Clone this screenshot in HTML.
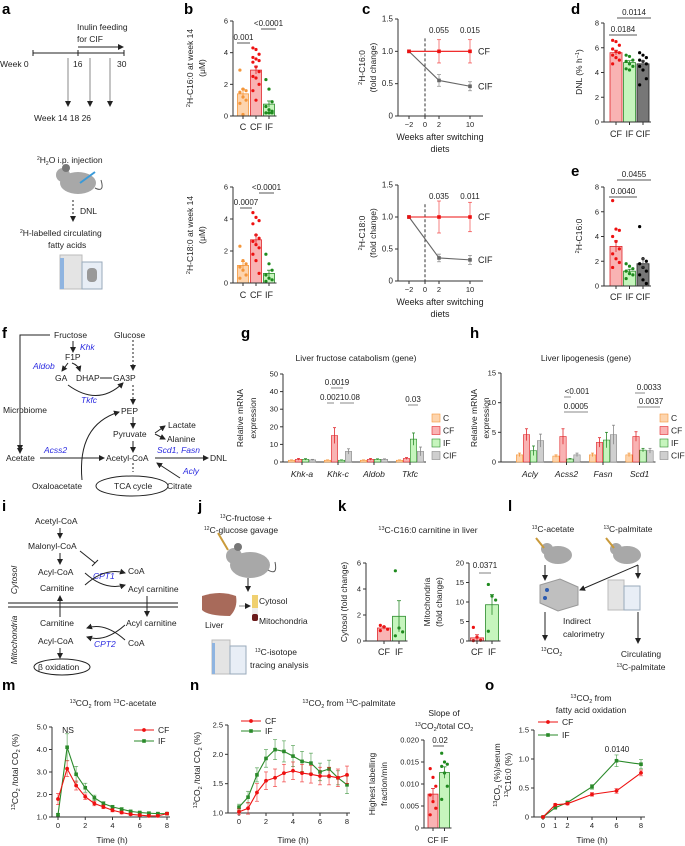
<!DOCTYPE html>
<html><head><meta charset="utf-8">
<style>
html,body{margin:0;padding:0;background:#fff;}
svg{display:block;font-family:"Liberation Sans",Arial,sans-serif;}
text{fill:#222;}
.pl{font-weight:bold;font-size:15px;fill:#000;}
.t{font-size:8.5px;}
.s{font-size:7.5px;}
.blue{fill:#2a2ae0;font-style:italic;}
</style></head>
<body>
<svg id="fig" width="685" height="846" viewBox="0 0 685 846" xmlns="http://www.w3.org/2000/svg">
<defs>
<marker id="ah" markerWidth="6" markerHeight="6" refX="5" refY="3" orient="auto"><path d="M0,0 L6,3 L0,6 z" fill="#222"/></marker>
</defs>
<text class="pl" x="2" y="14">a</text>
<text class="pl" x="184" y="14">b</text>
<text class="pl" x="362" y="14">c</text>
<text class="pl" x="571" y="14">d</text>
<text class="pl" x="571" y="176">e</text>
<text class="pl" x="2" y="338">f</text>
<text class="pl" x="241" y="338">g</text>
<text class="pl" x="470" y="338">h</text>
<text class="pl" x="2" y="511">i</text>
<text class="pl" x="198" y="511">j</text>
<text class="pl" x="338" y="511">k</text>
<text class="pl" x="508" y="511">l</text>
<text class="pl" x="2" y="690">m</text>
<text class="pl" x="190" y="690">n</text>
<text class="pl" x="485" y="690">o</text>

<g stroke="#222" fill="none">
<line x1="33" y1="53" x2="124" y2="53"/>
<line x1="33" y1="50" x2="33" y2="56"/><line x1="78" y1="50" x2="78" y2="56"/><line x1="124" y1="50" x2="124" y2="56"/>
<line x1="78" y1="47" x2="123" y2="47" marker-end="url(#ah)"/>
<line x1="68" y1="58" x2="68" y2="106" stroke="#888" marker-end="url(#ah)"/>
<line x1="90" y1="58" x2="90" y2="106" stroke="#888" marker-end="url(#ah)"/>
<line x1="110" y1="58" x2="110" y2="106" stroke="#888" marker-end="url(#ah)"/>
<line x1="73" y1="200" x2="73" y2="221" stroke-dasharray="2,2" marker-end="url(#ah)"/>
</g>
<text class="t" x="77" y="30">Inulin feeding</text>
<text class="t" x="77" y="42">for CIF</text>
<text class="t" x="0" y="67">Week 0</text>
<text class="t" x="73" y="67">16</text>
<text class="t" x="117" y="67">30</text>
<text class="t" x="34" y="121">Week 14  18  26</text>
<text class="t" x="37" y="163"><tspan font-size="5" dy="-3">2</tspan><tspan dy="3">H</tspan><tspan font-size="5" dy="2">2</tspan><tspan dy="-2">O i.p. injection</tspan></text>
<g>
<ellipse cx="78" cy="183" rx="18" ry="11" fill="#a8a8a8"/><circle cx="63" cy="175" r="7" fill="#a8a8a8"/><circle cx="66" cy="168" r="4" fill="#777"/>
<path d="M95,188 q10,5 6,-8" stroke="#555" fill="none"/><line x1="80" y1="183" x2="95" y2="172" stroke="#3a9ad9" stroke-width="2"/>
</g>
<text class="t" x="80" y="214">DNL</text>
<text class="t" x="20" y="236"><tspan font-size="5" dy="-3">2</tspan><tspan dy="3">H-labelled circulating</tspan></text>
<text class="t" x="48" y="248">fatty acids</text>
<g>
<rect x="60" y="255" width="22" height="34" fill="#e4e4e4" stroke="#bbb"/><rect x="82" y="262" width="20" height="27" fill="#e8eef6" stroke="#9ab"/>
<rect x="60" y="258" width="4" height="31" fill="#8fb4e0"/><rect x="87" y="268" width="10" height="14" rx="4" fill="#999"/>
</g>

<g font-size="8.5">
<text x="54" y="338">Fructose</text><text x="114" y="338">Glucose</text>
<text class="blue" x="80" y="350">Khk</text><text x="65" y="360">F1P</text>
<text class="blue" x="33" y="369">Aldob</text>
<text x="55" y="381">GA</text><text x="76" y="381">DHAP</text><text x="113" y="381">GA3P</text>
<text class="blue" x="81" y="403">Tkfc</text>
<text x="3" y="413">Microbiome</text><text x="121" y="414">PEP</text>
<text x="168" y="428">Lactate</text><text x="113" y="437">Pyruvate</text><text x="167" y="442">Alanine</text>
<text x="6" y="461">Acetate</text><text class="blue" x="44" y="453">Acss2</text>
<text x="106" y="461">Acetyl-CoA</text><text class="blue" x="157" y="453">Scd1, Fasn</text><text x="210" y="461">DNL</text>
<text class="blue" x="183" y="474">Acly</text>
<text x="32" y="489">Oxaloacetate</text><text x="114" y="489">TCA cycle</text><text x="167" y="489">Citrate</text>
</g>
<g stroke="#222" fill="none">
<polyline points="50,335 20,335 20,453" marker-end="url(#ah)"/>
<line x1="20" y1="418" x2="20" y2="450" marker-end="url(#ah)"/>
<line x1="73" y1="341" x2="73" y2="352" marker-end="url(#ah)"/>
<path d="M68,363 l-6,8" marker-end="url(#ah)"/><path d="M72,363 q6,2 8,8" marker-end="url(#ah)"/>
<line x1="100" y1="378" x2="112" y2="378"/>
<line x1="133" y1="340" x2="133" y2="370" stroke-dasharray="2,2" marker-end="url(#ah)"/>
<line x1="133" y1="385" x2="133" y2="404" stroke-dasharray="2,2" marker-end="url(#ah)"/>
<path d="M68,385 q30,22 55,-2" marker-end="url(#ah)"/>
<line x1="133" y1="417" x2="133" y2="428" marker-end="url(#ah)"/>
<path d="M155,433 l10,-7" marker-end="url(#ah)"/><path d="M155,434 l10,5" marker-end="url(#ah)"/>
<line x1="133" y1="441" x2="133" y2="452" marker-end="url(#ah)"/>
<line x1="40" y1="458" x2="104" y2="458" marker-end="url(#ah)"/>
<line x1="155" y1="458" x2="208" y2="458" marker-end="url(#ah)"/>
<line x1="133" y1="463" x2="133" y2="472" stroke-dasharray="2,2"/>
<line x1="180" y1="478" x2="157" y2="463" marker-end="url(#ah)"/>
<path d="M82,480 q-5,-55 37,-68" marker-end="url(#ah)"/>
<ellipse cx="132" cy="486" rx="36" ry="10"/>
</g>

<g font-size="8.5">
<text x="35" y="524">Acetyl-CoA</text><text x="28" y="549">Malonyl-CoA</text>
<text x="38" y="575">Acyl-CoA</text><text class="blue" x="93" y="579">CPT1</text><text x="128" y="574">CoA</text>
<text x="40" y="591">Carnitine</text><text x="128" y="592">Acyl carnitine</text>
<text x="40" y="626">Carnitine</text><text x="126" y="626">Acyl carnitine</text>
<text x="38" y="644">Acyl-CoA</text><text class="blue" x="94" y="647">CPT2</text><text x="128" y="646">CoA</text>
<text x="38" y="670">β oxidation</text>
<text font-style="italic" transform="rotate(-90,17,580)" x="17" y="580" text-anchor="middle">Cytosol</text>
<text font-style="italic" transform="rotate(-90,17,640)" x="17" y="640" text-anchor="middle">Mitochondria</text>
</g>
<g stroke="#222" fill="none">
<line x1="60" y1="528" x2="60" y2="538" marker-end="url(#ah)"/>
<line x1="60" y1="553" x2="60" y2="564" marker-end="url(#ah)"/>
<path d="M80,551 l15,12"/><line x1="92" y1="566" x2="98" y2="560"/>
<path d="M85,585 q20,-18 40,-12" marker-end="url(#ah)"/><path d="M85,573 q20,18 40,12" marker-end="url(#ah)"/>
<line x1="8" y1="603" x2="178" y2="603" stroke="#666" stroke-width="1.5"/><line x1="8" y1="607" x2="178" y2="607" stroke="#666" stroke-width="1.5"/>
<line x1="60" y1="617" x2="60" y2="596" marker-end="url(#ah)"/>
<line x1="147" y1="596" x2="147" y2="616" marker-end="url(#ah)"/>
<path d="M125,640 q-20,-18 -38,-12" marker-end="url(#ah)"/><path d="M125,625 q-20,18 -38,12" marker-end="url(#ah)"/>
<line x1="60" y1="648" x2="60" y2="658" marker-end="url(#ah)"/>
<ellipse cx="62" cy="667" rx="28" ry="8"/>
</g>

<text class="t" x="220" y="521"><tspan font-size="5" dy="-3">13</tspan><tspan dy="3">C-fructose +</tspan></text>
<text class="t" x="204" y="533"><tspan font-size="5" dy="-3">12</tspan><tspan dy="3">C-glucose gavage</tspan></text>
<g>
<ellipse cx="250" cy="565" rx="20" ry="13" fill="#a8a8a8"/><circle cx="234" cy="556" r="8" fill="#a8a8a8"/><circle cx="238" cy="547" r="4" fill="#777"/>
<path d="M268,570 q10,6 7,-8" stroke="#555" fill="none"/><line x1="218" y1="533" x2="228" y2="550" stroke="#c99a3a" stroke-width="2"/>
<line x1="248" y1="578" x2="248" y2="591" stroke="#222" marker-end="url(#ah)"/>
<path d="M202,596 q18,-6 34,0 q2,12 -6,20 q-22,0 -28,-6 z" fill="#a86a5a"/>
<line x1="239" y1="606" x2="250" y2="606" stroke="#888" marker-end="url(#ah)"/>
<rect x="252" y="595" width="6" height="13" fill="#f0d070"/><rect x="252" y="608" width="6" height="6" fill="#eee"/><rect x="252" y="614" width="6" height="7" rx="2" fill="#6a1a1a"/>
<rect x="212" y="640" width="18" height="34" fill="#e4e4e4" stroke="#bbb"/><rect x="230" y="646" width="16" height="28" fill="#e8eef6" stroke="#9ab"/><rect x="212" y="643" width="3" height="31" fill="#8fb4e0"/>
</g>
<text class="t" x="259" y="604">Cytosol</text>
<text class="t" x="259" y="624">Mitochondria</text>
<text class="t" x="205" y="628">Liver</text>
<text class="t" x="255" y="655"><tspan font-size="5" dy="-3">13</tspan><tspan dy="3">C-isotope</tspan></text>
<text class="t" x="250" y="668">tracing analysis</text>

<text class="t" x="553" y="532" text-anchor="middle"><tspan font-size="5" dy="-3">13</tspan><tspan dy="3">C-acetate</tspan></text>
<text class="t" x="628" y="532" text-anchor="middle"><tspan font-size="5" dy="-3">13</tspan><tspan dy="3">C-palmitate</tspan></text>
<g>
<ellipse cx="558" cy="555" rx="14" ry="9" fill="#a8a8a8"/><circle cx="547" cy="549" r="6" fill="#a8a8a8"/>
<ellipse cx="627" cy="555" rx="14" ry="9" fill="#a8a8a8"/><circle cx="616" cy="549" r="6" fill="#a8a8a8"/>
<line x1="536" y1="538" x2="544" y2="548" stroke="#c99a3a" stroke-width="2"/><line x1="606" y1="538" x2="614" y2="548" stroke="#c99a3a" stroke-width="2"/>
<path d="M540,585 l20,-6 l18,8 l0,18 l-20,6 l-18,-8 z" fill="#bfbfbf" stroke="#999"/><circle cx="547" cy="590" r="2" fill="#2a5ab0"/><circle cx="545" cy="598" r="2" fill="#2a5ab0"/>
<rect x="608" y="580" width="16" height="30" fill="#e4e4e4" stroke="#bbb"/><rect x="624" y="586" width="16" height="24" fill="#e8eef6" stroke="#9ab"/>
<g stroke="#222" fill="none">
<line x1="545" y1="565" x2="545" y2="580" marker-end="url(#ah)"/>
<line x1="545" y1="612" x2="545" y2="640" marker-end="url(#ah)"/>
<line x1="638" y1="565" x2="580" y2="590" marker-end="url(#ah)"/>
<line x1="638" y1="565" x2="638" y2="578" marker-end="url(#ah)"/>
<line x1="638" y1="612" x2="638" y2="643" marker-end="url(#ah)"/>
</g></g>
<text class="t" x="563" y="624">Indirect</text>
<text class="t" x="563" y="637">calorimetry</text>
<text class="t" x="541" y="654"><tspan font-size="5" dy="-3">13</tspan><tspan dy="3">CO</tspan><tspan font-size="5" dy="2">2</tspan></text>
<text class="t" x="641" y="657" text-anchor="middle">Circulating</text>
<text class="t" x="641" y="670" text-anchor="middle"><tspan font-size="5" dy="-3">13</tspan><tspan dy="3">C-palmitate</tspan></text>
<g id="charts"></g>
</svg>
<script>
// ---------- data ----------
const bCats = ["C","CF","IF"];
const bTopMeans = [1.4, 2.9, 0.75];
const bTopErr = [0.3, 0.25, 0.2];
const bTopDots = [[2.9,1.7,1.6,1.5,1.2,1.0,0.8,0.1],[4.3,4.2,3.9,3.7,3.6,3.5,3.4,3.1,2.8,2.5,2.4,2.0,1.6,1.0],[2.3,1.7,0.9,0.6,0.4,0.3,0.2,0.2,0.2]];
const bBotMeans = [1.1, 2.7, 0.6];
const bBotErr = [0.25, 0.3, 0.2];
const bBotDots = [[2.3,1.4,1.2,1.0,0.8,0.5,0.3],[4.4,4.1,3.9,3.7,3.0,2.8,2.6,2.4,2.2,1.8,1.4,0.6],[1.8,1.2,0.8,0.5,0.3,0.2,0.1]];
const bTicks = [0,2,4,6];
const cWeeks = [-2, 2, 10];
const cTopCF = [1.0, 1.0, 1.0];
const cTopCFerr = [0, 0.18, 0.18];
const cTopCIF = [1.0, 0.55, 0.46];
const cTopCIFerr = [0, 0.09, 0.07];
const cBotCF = [1.0, 1.0, 1.0];
const cBotCFerr = [0, 0.25, 0.23];
const cBotCIF = [1.0, 0.36, 0.33];
const cBotCIFerr = [0, 0.06, 0.07];
const cTicks = [0, 0.5, 1.0, 1.5];
const cTickLabels = ["0","0.5","1.0","1.5"];
const dCats = ["CF","IF","CIF"];
const dMeans = [5.6, 4.8, 4.7];
const dErr = [0.2, 0.15, 0.25];
const dDots = [[6.6,6.5,6.2,5.9,5.7,5.6,5.4,5.2,5.0,4.7],[5.4,5.3,5.0,4.9,4.7,4.5,4.3,4.2],[5.6,5.4,5.2,5.0,4.9,4.7,4.5,4.2,3.5,3.0]];
const eMeans = [3.2, 1.2, 1.8];
const eErr = [0.45, 0.15, 0.4];
const eDots = [[6.9,4.6,4.5,4.0,3.6,3.0,2.6,2.2,1.9,1.5],[1.8,1.6,1.4,1.2,1.0,0.9,0.6],[4.8,2.2,2.0,1.8,1.5,1.2,0.9,0.5,0.2]];
const deTicks = [0,2,4,6,8];
const geneGroups = ["C","CF","IF","CIF"];
const gGenes = ["Khk-a","Khk-c","Aldob","Tkfc"];
const gMeans = [[1,1.5,1.5,1.2],[1,15,1,6],[1,1.5,1.5,1.5],[1,2,13,6]];
const gErr = [[0.2,0.5,0.4,0.3],[0.2,4.5,0.2,1.5],[0.2,0.5,0.3,0.3],[0.2,0.5,3.5,2.5]];
const gTicks = [0,10,20,30,40,50];
const hGenes = ["Acly","Acss2","Fasn","Scd1"];
const hMeans = [[1.2,4.6,1.9,3.6],[1,4.3,0.5,1.2],[1.2,3.3,3.7,4.6],[1.2,4.3,2.0,1.9]];
const hErr = [[0.3,1.0,0.8,1.1],[0.2,1.3,0.1,0.3],[0.3,0.8,1.3,1.6],[0.3,0.8,0.3,0.4]];
const hTicks = [0,5,10,15];
const kCats = ["CF","IF"];
const kCytMeans = [1.0, 1.9];
const kCytErr = [0.1, 1.2];
const kCytDots = [[1.2,1.1,0.9,0.8],[5.4,1.0,0.7,0.4]];
const kMitoMeans = [0.8, 9.3];
const kMitoErr = [0.8, 2.6];
const kMitoDots = [[3.5,1.0,0.2,0.1],[14.5,11.5,10.5,2.5]];
const kCytTicks = [0,2,4,6];
const kMitoTicks = [0,5,10,15,20];
const mTime = [0,0.67,1.33,2,2.67,3.33,4,4.67,5.33,6,6.67,7.33,8];
const mCF = [1.8,3.15,2.4,1.9,1.6,1.45,1.3,1.2,1.12,1.08,1.05,1.05,1.15];
const mCFerr = [0.25,0.35,0.2,0.12,0.1,0.08,0.07,0.06,0.05,0.05,0.05,0.05,0.05];
const mIF = [1.1,4.1,2.9,2.3,1.85,1.6,1.45,1.35,1.25,1.2,1.17,1.15,1.15];
const mIFerr = [0.05,0.6,0.35,0.2,0.12,0.08,0.07,0.06,0.05,0.05,0.05,0.05,0.05];
const mTicks = [1,2,3,4,5];
const mTickLabels = ["1.0","2.0","3.0","4.0","5.0"];
const timeTicks = [0,2,4,6,8];
const nTime = [0,0.67,1.33,2,2.67,3.33,4,4.67,5.33,6,6.67,7.33,8];
const nCF = [1.02,1.08,1.35,1.55,1.6,1.68,1.72,1.68,1.66,1.63,1.63,1.6,1.65];
const nCFerr = [0.05,0.1,0.15,0.15,0.15,0.15,0.15,0.15,0.15,0.15,0.15,0.15,0.15];
const nIF = [1.1,1.27,1.65,1.93,2.08,2.05,1.97,1.88,1.85,1.7,1.75,1.6,1.48];
const nIFerr = [0.05,0.1,0.12,0.15,0.17,0.18,0.18,0.17,0.17,0.15,0.15,0.12,0.15];
const nTicks = [1.0,1.5,2.0,2.5];
const nTickLabels = ["1.0","1.5","2.0","2.5"];
const slopeMeans = [0.0077, 0.0126];
const slopeErr = [0.0013, 0.0013];
const slopeDots = [[0.0135,0.0115,0.0095,0.0075,0.006,0.0045,0.003],[0.017,0.015,0.0145,0.014,0.0125,0.0095,0.0065]];
const slopeTicks = [0,0.005,0.01,0.015,0.02];
const slopeTickLabels = ["0","0.005","0.010","0.015","0.020"];
const oTime = [0,1,2,4,6,8];
const oCF = [0,0.21,0.23,0.39,0.45,0.76];
const oCFerr = [0.01,0.02,0.02,0.03,0.04,0.05];
const oIF = [0,0.16,0.25,0.52,0.97,0.91];
const oIFerr = [0.01,0.02,0.02,0.04,0.1,0.08];
const oTicks = [0,0.5,1.0,1.5];
const oTickLabels = ["0","0.5","1.0","1.5"];
const oXTicks = [0,1,2,4,6,8];

// ---------- helpers ----------
const NS = "http://www.w3.org/2000/svg";
const root = document.getElementById("charts");
function mk(tag, attrs, name, parent){
  const e = document.createElementNS(NS, tag);
  for (const k in attrs) e.setAttribute(k, attrs[k]);
  
  
  (parent || root).appendChild(e);
  return e;
}
function txt(x, y, s, name, opt){
  opt = opt || {};
  const a = {x:x, y:y, "font-size": opt.size || 8.5, "text-anchor": opt.anchor || "start"};
  if (opt.fill) a.fill = opt.fill;
  if (opt.rot) a.transform = "rotate(-90," + x + "," + y + ")";
  if (opt.italic) a["font-style"] = "italic";
  const t = mk("text", a, name);
  t.innerHTML = s;
  return t;
}
function lin(d0, d1, r0, r1){ return v => r0 + (v - d0) * (r1 - r0) / (d1 - d0); }
const COL = {
  C:{fill:"#fdd4ad", stroke:"#f4963a", dot:"#f4963a"},
  CF:{fill:"#f9b3b3", stroke:"#e0262b", dot:"#ee1111"},
  IF:{fill:"#c6f5bd", stroke:"#2a8a2a", dot:"#1e8a1e"},
  CIF:{fill:"#777", stroke:"#222", dot:"#000"},
  CIFg:{fill:"#cfcfcf", stroke:"#888", dot:"#666"}
};
function yAxis(x, ys, ticks, labels, name, fs){
  mk("line", {x1:x, y1:ys(ticks[0]), x2:x, y2:ys(ticks[ticks.length-1]), stroke:"#333"}, name + "-line");
  ticks.forEach((t, i) => {
    mk("line", {x1:x-3, y1:ys(t), x2:x, y2:ys(t), stroke:"#333"}, name + "-tick");
    txt(x-5, ys(t)+2.5, labels ? labels[i] : String(t), name + "-tick-label", {anchor:"end", size: fs || 7.5});
  });
}
function errBar(x, ys, m, e, color, name, w){
  w = w || 2;
  mk("line", {x1:x, y1:ys(m-e), x2:x, y2:ys(m+e), stroke:color, "stroke-width":0.8}, name);
  mk("line", {x1:x-w, y1:ys(m+e), x2:x+w, y2:ys(m+e), stroke:color, "stroke-width":0.8}, name + "-cap");
}
function barGroup(cfg){
  const ys = lin(0, cfg.max, cfg.y0, cfg.yTop);
  yAxis(cfg.ax, ys, cfg.ticks, cfg.tickLabels, cfg.name + "-y-axis", cfg.tfs);
  cfg.cats.forEach((c, i) => {
    const cx = cfg.x0 + i * cfg.step;
    const col = COL[c];
    mk("rect", {x: cx - cfg.w/2, y: ys(cfg.means[i]), width: cfg.w, height: ys(0) - ys(cfg.means[i]), fill: col.fill, stroke: col.stroke, "stroke-width":0.8}, cfg.name + "-bar-" + c.toLowerCase());
    if (cfg.dots) cfg.dots[i].forEach((v, j) => {
      const off = ((j % 3) - 1) * cfg.w * 0.28;
      mk("circle", {cx: cx + off, cy: ys(v), r: 1.6, fill: col.dot}, cfg.name + "-dot");
    });
    errBar(cx, ys, cfg.means[i], cfg.err[i], col.stroke === "#222" ? "#666" : col.stroke, cfg.name + "-error-bar");
    if (cfg.labelY) txt(cx, cfg.labelY, c, cfg.name + "-x-label", {anchor:"middle", size: cfg.lfs || 9});
  });
  mk("line", {x1:cfg.ax, y1:ys(0), x2:cfg.x0 + (cfg.cats.length-1)*cfg.step + cfg.w/2 + 2, y2:ys(0), stroke:"#333"}, cfg.name + "-x-axis");
  cfg.cats.forEach((c, i) => mk("line", {x1:cfg.x0+i*cfg.step, y1:ys(0), x2:cfg.x0+i*cfg.step, y2:ys(0)+3, stroke:"#333"}, cfg.name + "-x-tick"));
  return ys;
}
function pval(x1, x2, y, label, name){
  mk("line", {x1:x1, y1:y, x2:x2, y2:y, stroke:"#555"}, name + "-bracket");
  txt((x1+x2)/2, y-3, label, name, {anchor:"middle", size:8});
}
function series(xs, ys, xv, yv, ev, color, marker, name){
  const pts = xv.map((t, i) => xs(t) + "," + ys(yv[i])).join(" ");
  mk("polyline", {points: pts, fill:"none", stroke: color, "stroke-width":1.1}, name + "-line");
  xv.forEach((t, i) => {
    if (ev && ev[i] > 0) {
      mk("line", {x1:xs(t), y1:ys(yv[i]-ev[i]), x2:xs(t), y2:ys(yv[i]+ev[i]), stroke: color, "stroke-width":0.7, opacity:0.75}, name + "-error-bar");
      mk("line", {x1:xs(t)-2, y1:ys(yv[i]+ev[i]), x2:xs(t)+2, y2:ys(yv[i]+ev[i]), stroke: color, "stroke-width":0.7, opacity:0.75}, name + "-error-cap");
      mk("line", {x1:xs(t)-2, y1:ys(yv[i]-ev[i]), x2:xs(t)+2, y2:ys(yv[i]-ev[i]), stroke: color, "stroke-width":0.7, opacity:0.75}, name + "-error-cap");
    }
    if (marker === "circle") mk("circle", {cx:xs(t), cy:ys(yv[i]), r:1.9, fill:color}, name + "-point");
    else mk("rect", {x:xs(t)-1.8, y:ys(yv[i])-1.8, width:3.6, height:3.6, fill:color}, name + "-point");
  });
}
function xAxis(xs, y, ticks, labels, name, x0, x1){
  mk("line", {x1:x0, y1:y, x2:x1, y2:y, stroke:"#333"}, name + "-line");
  ticks.forEach((t, i) => {
    mk("line", {x1:xs(t), y1:y, x2:xs(t), y2:y+3, stroke:"#333"}, name + "-tick");
    txt(xs(t), y+11, labels ? labels[i] : String(t), name + "-tick-label", {anchor:"middle", size:7.5});
  });
}
function legendLine(x, y, color, marker, label, name){
  mk("line", {x1:x, y1:y, x2:x+20, y2:y, stroke:color, "stroke-width":1.1}, name + "-line");
  if (marker === "circle") mk("circle", {cx:x+10, cy:y, r:1.9, fill:color}, name + "-marker");
  else mk("rect", {x:x+8.2, y:y-1.8, width:3.6, height:3.6, fill:color}, name + "-marker");
  txt(x+24, y+3, label, name + "-label", {size:8.5});
}

// ---------- panel b ----------
barGroup({name:"b-top", cats:bCats, means:bTopMeans, err:bTopErr, dots:bTopDots, ax:233, y0:116, yTop:21, max:6, ticks:bTicks, x0:243, step:13, w:11, labelY:130});
pval(237,250,43,"0.001","b-top-p-c-cf");
pval(261,276,29,"&lt;0.0001","b-top-p-cf-if");
txt(193,68,'<tspan font-size="5.5" dy="-3">2</tspan><tspan dy="3">H-C16:0 at week 14</tspan>',"b-top-y-title",{rot:true,anchor:"middle",size:8.5});
txt(205,68,"(μM)","b-top-y-title-2",{rot:true,anchor:"middle",size:8.5});
barGroup({name:"b-bot", cats:bCats, means:bBotMeans, err:bBotErr, dots:bBotDots, ax:233, y0:283, yTop:187, max:6, ticks:bTicks, x0:243, step:13, w:11, labelY:298});
pval(240,252,208,"0.0007","b-bot-p-c-cf");
pval(259,274,193,"&lt;0.0001","b-bot-p-cf-if");
txt(193,235,'<tspan font-size="5.5" dy="-3">2</tspan><tspan dy="3">H-C18:0 at week 14</tspan>',"b-bot-y-title",{rot:true,anchor:"middle",size:8.5});
txt(205,235,"(μM)","b-bot-y-title-2",{rot:true,anchor:"middle",size:8.5});

// ---------- panel c ----------
function weekScale(w){
  const d = [-2,0,2,10], r = [409,425,439,470];
  for (let i = 0; i < d.length-1; i++) if (w <= d[i+1]) return r[i] + (w-d[i])*(r[i+1]-r[i])/(d[i+1]-d[i]);
  return r[3];
}
function panelC(tag, yTop, y0, cf, cfe, cif, cife, title, p1, p2){
  const ys = lin(0, 1.5, y0, yTop);
  yAxis(398, ys, cTicks, cTickLabels, "c-" + tag + "-y-axis", 8);
  xAxis(weekScale, y0, [-2,0,2,10], ["−2","0","2","10"], "c-" + tag + "-x-axis", 398, 483);
  mk("line", {x1:weekScale(0), y1:ys(1.2), x2:weekScale(0), y2:y0, stroke:"#333", "stroke-dasharray":"3,2"}, "c-" + tag + "-switch-line");
  series(weekScale, ys, cWeeks, cif, cife, "#666", "rect", "c-" + tag + "-cif");
  series(weekScale, ys, cWeeks, cf, cfe, "#ee1111", "rect", "c-" + tag + "-cf");
  txt(weekScale(10)+8, ys(cf[2])+3, "CF", "c-" + tag + "-cf-label", {fill:"#ee1111", size:9});
  txt(weekScale(10)+8, ys(cif[2])+3, "CIF", "c-" + tag + "-cif-label", {size:9});
  txt(weekScale(2), yTop+14, p1, "c-" + tag + "-p-week2", {anchor:"middle", size:8});
  txt(weekScale(10), yTop+14, p2, "c-" + tag + "-p-week10", {anchor:"middle", size:8});
  txt(440, y0+24, "Weeks after switching", "c-" + tag + "-x-title", {anchor:"middle", size:9});
  txt(440, y0+36, "diets", "c-" + tag + "-x-title-2", {anchor:"middle", size:9});
  txt(365, (y0+yTop)/2, '<tspan font-size="5.5" dy="-3">2</tspan><tspan dy="3">' + title + '</tspan>', "c-" + tag + "-y-title", {rot:true, anchor:"middle", size:8.5});
  txt(376, (y0+yTop)/2, "(fold change)", "c-" + tag + "-y-title-2", {rot:true, anchor:"middle", size:8.5});
}
panelC("top", 19, 116, cTopCF, cTopCFerr, cTopCIF, cTopCIFerr, "H-C16:0", "0.055", "0.015");
panelC("bot", 185, 281, cBotCF, cBotCFerr, cBotCIF, cBotCIFerr, "H-C18:0", "0.035", "0.011");

// ---------- panels d, e ----------
barGroup({name:"d", cats:dCats, means:dMeans, err:dErr, dots:dDots, ax:604, y0:122, yTop:23, max:8, ticks:deTicks, x0:616, step:13.5, w:12, labelY:137});
pval(609,637,35,"0.0184","d-p-cf-if");
pval(617,651,18,"0.0114","d-p-cf-cif");
txt(582,72,'DNL (% h<tspan font-size="5.5" dy="-3">−1</tspan><tspan dy="3">)</tspan>',"d-y-title",{rot:true,anchor:"middle",size:8.5});
barGroup({name:"e", cats:dCats, means:eMeans, err:eErr, dots:eDots, ax:604, y0:286, yTop:187, max:8, ticks:deTicks, x0:616, step:13.5, w:12, labelY:300});
pval(609,637,197,"0.0040","e-p-cf-if");
pval(617,651,180,"0.0455","e-p-cf-cif");
txt(582,236,'<tspan font-size="5.5" dy="-3">2</tspan><tspan dy="3">H-C16:0</tspan>',"e-y-title",{rot:true,anchor:"middle",size:8.5});

// ---------- panels g, h ----------
function genePanel(tag, genes, means, errs, ax, max, ticks, x0, step, yTop, legendX, title, titleX, t1, t2){
  const ys = lin(0, max, 462, yTop);
  yAxis(ax, ys, ticks, null, tag + "-y-axis", 7.5);
  mk("line", {x1:ax, y1:462, x2:x0 + 3*step + 16, y2:462, stroke:"#333"}, tag + "-x-axis");
  genes.forEach((g, gi) => {
    const cx = x0 + gi * step;
    geneGroups.forEach((grp, k) => {
      const col = COL[grp === "CIF" ? "CIFg" : grp];
      const bx = cx + (k - 1.5) * 7;
      mk("rect", {x: bx - 3.2, y: ys(means[gi][k]), width: 6.4, height: 462 - ys(means[gi][k]), fill: col.fill, stroke: col.stroke, "stroke-width":0.6}, tag + "-bar-" + g.toLowerCase() + "-" + grp.toLowerCase());
      errBar(bx, ys, means[gi][k], errs[gi][k], col.stroke, tag + "-error-bar", 1.5);
    });
    mk("line", {x1:cx, y1:462, x2:cx, y2:465, stroke:"#333"}, tag + "-x-tick");
    txt(cx, 477, g, tag + "-x-label-" + g.toLowerCase(), {anchor:"middle", size:8.5, italic:true});
  });
  geneGroups.forEach((grp, k) => {
    const col = COL[grp === "CIF" ? "CIFg" : grp];
    mk("rect", {x: legendX, y: 414 + k*12.5, width: 8, height: 8, fill: col.fill, stroke: col.stroke, "stroke-width":0.6}, tag + "-legend-swatch-" + grp.toLowerCase());
    txt(legendX + 11, 421 + k*12.5, grp, tag + "-legend-label-" + grp.toLowerCase(), {size:8.5});
  });
  txt(titleX, 361, title, tag + "-title", {anchor:"middle", size:8.5});
  txt(ax - t1, 418, "Relative mRNA", tag + "-y-title", {rot:true, anchor:"middle", size:8.5});
  txt(ax - t2, 418, "expression", tag + "-y-title-2", {rot:true, anchor:"middle", size:8.5});
  return ys;
}
genePanel("g", gGenes, gMeans, gErr, 283, 50, gTicks, 302, 36, 374, 432, "Liver fructose catabolism (gene)", 356, 40, 27);
mk("line",{x1:331,y1:388,x2:343,y2:388,stroke:"#888"},"g-p-bracket");
txt(337,385,"0.0019","g-p-khkc-1",{anchor:"middle",size:8});
mk("line",{x1:327,y1:403,x2:334,y2:403,stroke:"#888"},"g-p-bracket");
mk("line",{x1:340,y1:403,x2:354,y2:403,stroke:"#888"},"g-p-bracket");
txt(340,400,"0.00210.08","g-p-khkc-2",{anchor:"middle",size:8});
mk("line",{x1:408,y1:405,x2:418,y2:405,stroke:"#888"},"g-p-bracket");
txt(413,402,"0.03","g-p-tkfc",{anchor:"middle",size:8});
genePanel("h", hGenes, hMeans, hErr, 501, 15, hTicks, 530, 36.5, 373, 660, "Liver lipogenesis (gene)", 586, 24, 12);
mk("line",{x1:564,y1:397,x2:571,y2:397,stroke:"#888"},"h-p-bracket");
txt(577,394,"&lt;0.001","h-p-acss2-1",{anchor:"middle",size:8});
mk("line",{x1:564,y1:412,x2:588,y2:412,stroke:"#888"},"h-p-bracket");
txt(576,409,"0.0005","h-p-acss2-2",{anchor:"middle",size:8});
mk("line",{x1:635,y1:393,x2:645,y2:393,stroke:"#888"},"h-p-bracket");
txt(649,390,"0.0033","h-p-scd1-1",{anchor:"middle",size:8});
mk("line",{x1:637,y1:407,x2:660,y2:407,stroke:"#888"},"h-p-bracket");
txt(651,404,"0.0037","h-p-scd1-2",{anchor:"middle",size:8});

// ---------- panel k ----------
txt(428,533,'<tspan font-size="5.5" dy="-3">13</tspan><tspan dy="3">C-C16:0 carnitine in liver</tspan>',"k-title",{anchor:"middle",size:8.5});
barGroup({name:"k-cyt", cats:kCats, means:kCytMeans, err:kCytErr, dots:kCytDots, ax:366, y0:641, yTop:563, max:6, ticks:kCytTicks, x0:384, step:15, w:13, labelY:655});
txt(347,602,"Cytosol (fold change)","k-cyt-y-title",{rot:true,anchor:"middle",size:8.5});
barGroup({name:"k-mito", cats:kCats, means:kMitoMeans, err:kMitoErr, dots:kMitoDots, ax:469, y0:641, yTop:563, max:20, ticks:kMitoTicks, x0:477, step:15, w:13, labelY:655});
mk("line",{x1:479,y1:573,x2:491,y2:573,stroke:"#aaa","stroke-width":1.5},"k-mito-p-bracket");
txt(485,568,"0.0371","k-mito-p",{anchor:"middle",size:8});
txt(430,602,"Mitochondria","k-mito-y-title",{rot:true,anchor:"middle",size:8.5});
txt(442,602,"(fold change)","k-mito-y-title-2",{rot:true,anchor:"middle",size:8.5});

// ---------- panel m ----------
(function(){
  const ys = lin(1, 5, 817, 727), xs = lin(0, 8, 58, 167);
  yAxis(52, ys, mTicks, mTickLabels, "m-y-axis", 7.5);
  xAxis(xs, 817, timeTicks, null, "m-x-axis", 52, 170);
  series(xs, ys, mTime, mIF, mIFerr, "#2a8a2a", "rect", "m-if");
  series(xs, ys, mTime, mCF, mCFerr, "#ee1111", "circle", "m-cf");
  txt(68,733,"NS","m-ns-label",{anchor:"middle",size:8.5});
  legendLine(134,730,"#ee1111","circle","CF","m-legend-cf");
  legendLine(134,741,"#2a8a2a","rect","IF","m-legend-if");
  txt(113,706,'<tspan font-size="5.5" dy="-3">13</tspan><tspan dy="3">CO</tspan><tspan font-size="5.5" dy="2">2</tspan><tspan dy="-2"> from </tspan><tspan font-size="5.5" dy="-3">13</tspan><tspan dy="3">C-acetate</tspan>',"m-title",{anchor:"middle",size:8.5});
  txt(112,843,"Time (h)","m-x-title",{anchor:"middle",size:8.5});
  txt(18,772,'<tspan font-size="5.5" dy="-3">13</tspan><tspan dy="3">CO</tspan><tspan font-size="5.5" dy="2">2</tspan><tspan dy="-2"> /total CO</tspan><tspan font-size="5.5" dy="2">2</tspan><tspan dy="-2"> (%)</tspan>',"m-y-title",{rot:true,anchor:"middle",size:8.5});
})();

// ---------- panel n ----------
(function(){
  const ys = lin(1, 2.5, 813, 725), xs = lin(0, 8, 239, 347);
  yAxis(228, ys, nTicks, nTickLabels, "n-y-axis", 7.5);
  xAxis(xs, 813, timeTicks, null, "n-x-axis", 228, 350);
  series(xs, ys, nTime, nIF, nIFerr, "#2a8a2a", "rect", "n-if");
  series(xs, ys, nTime, nCF, nCFerr, "#ee1111", "circle", "n-cf");
  legendLine(241,721,"#ee1111","circle","CF","n-legend-cf");
  legendLine(241,731,"#2a8a2a","rect","IF","n-legend-if");
  txt(349,706,'<tspan font-size="5.5" dy="-3">13</tspan><tspan dy="3">CO</tspan><tspan font-size="5.5" dy="2">2</tspan><tspan dy="-2"> from </tspan><tspan font-size="5.5" dy="-3">13</tspan><tspan dy="3">C-palmitate</tspan>',"n-title",{anchor:"middle",size:8.5});
  txt(293,843,"Time (h)","n-x-title",{anchor:"middle",size:8.5});
  txt(200,770,'<tspan font-size="5.5" dy="-3">13</tspan><tspan dy="3">CO</tspan><tspan font-size="5.5" dy="2">2</tspan><tspan dy="-2"> /total CO</tspan><tspan font-size="5.5" dy="2">2</tspan><tspan dy="-2"> (%)</tspan>',"n-y-title",{rot:true,anchor:"middle",size:8.5});
})();
barGroup({name:"n-slope", cats:kCats, means:slopeMeans, err:slopeErr, dots:slopeDots, ax:424, y0:828, yTop:740, max:0.02, ticks:slopeTicks, tickLabels:slopeTickLabels, x0:433, step:11.5, w:10, labelY:843, lfs:8.5});
mk("line",{x1:433,y1:746,x2:444,y2:746,stroke:"#555"},"n-slope-p-bracket");
txt(440,743,"0.02","n-slope-p",{anchor:"middle",size:8});
txt(444,716,"Slope of","n-slope-title",{anchor:"middle",size:8.5});
txt(444,729,'<tspan font-size="5.5" dy="-3">13</tspan><tspan dy="3">CO</tspan><tspan font-size="5.5" dy="2">2</tspan><tspan dy="-2">/total CO</tspan><tspan font-size="5.5" dy="2">2</tspan>',"n-slope-title-2",{anchor:"middle",size:8.5});
txt(375,784,"Highest labelling","n-slope-y-title",{rot:true,anchor:"middle",size:8.5});
txt(387,784,"fraction/min","n-slope-y-title-2",{rot:true,anchor:"middle",size:8.5});

// ---------- panel o ----------
(function(){
  const ys = lin(0, 1.5, 817, 730), xs = lin(0, 8, 543, 641);
  yAxis(534, ys, oTicks, oTickLabels, "o-y-axis", 7.5);
  xAxis(xs, 817, oXTicks, null, "o-x-axis", 534, 645);
  series(xs, ys, oTime, oIF, oIFerr, "#2a8a2a", "rect", "o-if");
  series(xs, ys, oTime, oCF, oCFerr, "#ee1111", "circle", "o-cf");
  legendLine(538,722,"#ee1111","circle","CF","o-legend-cf");
  legendLine(538,735,"#2a8a2a","rect","IF","o-legend-if");
  txt(617,752,"0.0140","o-p",{anchor:"middle",size:8});
  txt(591,701,'<tspan font-size="5.5" dy="-3">13</tspan><tspan dy="3">CO</tspan><tspan font-size="5.5" dy="2">2</tspan><tspan dy="-2"> from</tspan>',"o-title",{anchor:"middle",size:8.5});
  txt(591,713,"fatty acid oxidation","o-title-2",{anchor:"middle",size:8.5});
  txt(592,843,"Time (h)","o-x-title",{anchor:"middle",size:8.5});
  txt(500,775,'<tspan font-size="5.5" dy="-3">13</tspan><tspan dy="3">CO</tspan><tspan font-size="5.5" dy="2">2</tspan><tspan dy="-2"> (%)/serum</tspan>',"o-y-title",{rot:true,anchor:"middle",size:8.5});
  txt(511,775,'<tspan font-size="5.5" dy="-3">13</tspan><tspan dy="3">C16:0 (%)</tspan>',"o-y-title-2",{rot:true,anchor:"middle",size:8.5});
})();
</script>
</body></html>
